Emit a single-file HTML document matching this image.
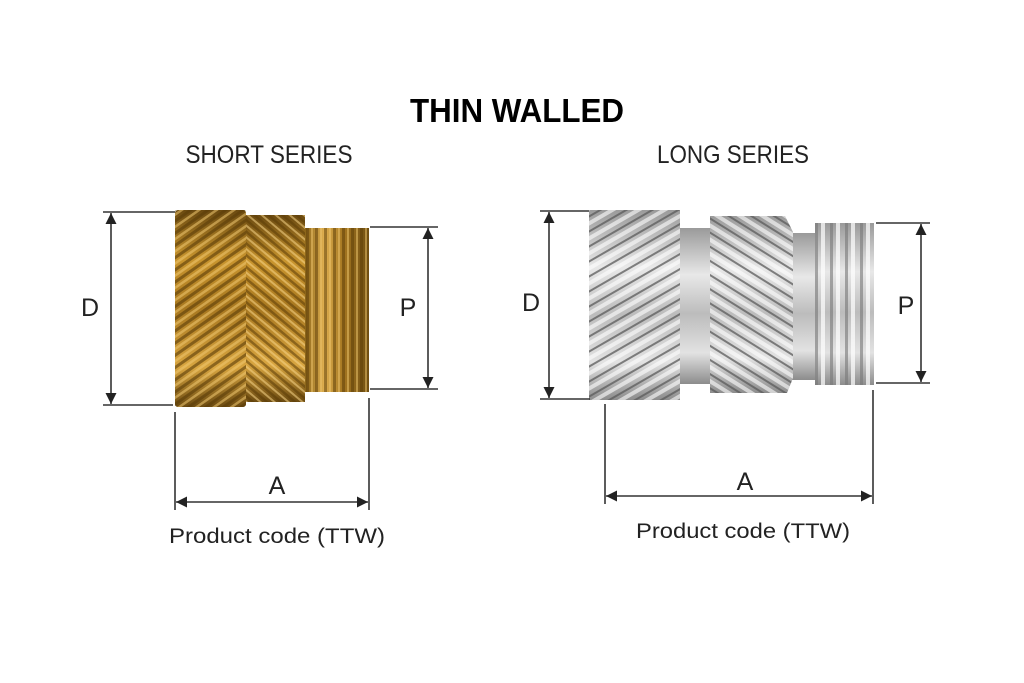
<!DOCTYPE html>
<html><head><meta charset="utf-8"><style>html,body{margin:0;padding:0;background:#fff}svg{display:block}</style></head>
<body>
<svg width="1024" height="683" viewBox="0 0 1024 683" xmlns="http://www.w3.org/2000/svg">
<defs>
<linearGradient id="bv" x1="0" y1="0" x2="0" y2="1">
<stop offset="0" stop-color="#6b4a10"/><stop offset="0.25" stop-color="#c9952e"/><stop offset="0.5" stop-color="#a87820"/><stop offset="0.8" stop-color="#d8a540"/><stop offset="1" stop-color="#6b4a10"/></linearGradient>
<linearGradient id="bt" x1="0" y1="0" x2="1" y2="0">
<stop offset="0" stop-color="#8a6418"/><stop offset="0.3" stop-color="#e0b050"/><stop offset="0.6" stop-color="#a47620"/><stop offset="1" stop-color="#6f4e12"/></linearGradient>
<pattern id="bk" width="10" height="10" patternUnits="userSpaceOnUse" patternTransform="rotate(-35)">
<rect width="10" height="3" fill="#5a3c08" opacity="0.6"/><rect y="5" width="10" height="2.5" fill="#f0c870" opacity="0.55"/></pattern>
<pattern id="bk2" width="9" height="9" patternUnits="userSpaceOnUse" patternTransform="rotate(40)">
<rect width="9" height="2.5" fill="#5a3c08" opacity="0.55"/><rect y="4.5" width="9" height="2" fill="#f8d488" opacity="0.55"/></pattern>
<pattern id="bth" width="9" height="10" patternUnits="userSpaceOnUse">
<rect width="3" height="10" fill="#5a3c08" opacity="0.5"/><rect x="5" width="2" height="10" fill="#f0c870" opacity="0.5"/></pattern>
<linearGradient id="sv" x1="0" y1="0" x2="0" y2="1">
<stop offset="0" stop-color="#9a9a9a"/><stop offset="0.3" stop-color="#e8e8e8"/><stop offset="0.55" stop-color="#bcbcbc"/><stop offset="0.8" stop-color="#e2e2e2"/><stop offset="1" stop-color="#8c8c8c"/></linearGradient>
<pattern id="sk" width="13" height="13" patternUnits="userSpaceOnUse" patternTransform="rotate(-30)">
<rect width="13" height="2" fill="#5a5a5a" opacity="0.75"/><rect y="5" width="13" height="4" fill="#ffffff" opacity="0.6"/></pattern>
<pattern id="sk2" width="12" height="12" patternUnits="userSpaceOnUse" patternTransform="rotate(32)">
<rect width="12" height="2" fill="#5a5a5a" opacity="0.75"/><rect y="5" width="12" height="4" fill="#ffffff" opacity="0.6"/></pattern>
<pattern id="sth" width="15" height="10" patternUnits="userSpaceOnUse" x="815">
<rect width="3" height="10" fill="#777" opacity="0.6"/><rect x="6" width="4" height="10" fill="#fff" opacity="0.7"/></pattern>
<marker id="ar" viewBox="0 0 10 10" refX="10" refY="5" markerWidth="11" markerHeight="11" markerUnits="userSpaceOnUse" orient="auto-start-reverse"><path d="M0,0 L10,5 L0,10 z" fill="#222"/></marker>
</defs>

<text x="517" y="122" text-anchor="middle" font-family="Liberation Sans Narrow, Liberation Sans, sans-serif" font-weight="bold" font-size="33" textLength="214" lengthAdjust="spacingAndGlyphs">THIN WALLED</text>
<text x="269" y="163" text-anchor="middle" font-family="Liberation Sans Narrow, Liberation Sans, sans-serif" font-size="25" textLength="167" lengthAdjust="spacingAndGlyphs" fill="#222">SHORT SERIES</text>
<text x="733" y="163" text-anchor="middle" font-family="Liberation Sans Narrow, Liberation Sans, sans-serif" font-size="25" textLength="152" lengthAdjust="spacingAndGlyphs" fill="#222">LONG SERIES</text>

<!-- Brass -->
<g>
<rect x="305" y="228" width="64" height="164" fill="url(#bt)"/>
<rect x="305" y="228" width="64" height="164" fill="url(#bth)"/>
<rect x="175" y="210" width="71" height="197" rx="3" fill="url(#bv)"/>
<rect x="175" y="210" width="71" height="197" fill="url(#bk)"/>
<rect x="246" y="215" width="59" height="187" fill="url(#bv)"/>
<rect x="246" y="215" width="59" height="187" fill="url(#bk2)"/>
</g>
<g stroke="#333" stroke-width="1.6" fill="none">
<line x1="103" y1="212" x2="175" y2="212"/><line x1="103" y1="405" x2="173" y2="405"/>
<line x1="111" y1="213" x2="111" y2="404" marker-start="url(#ar)" marker-end="url(#ar)"/>
<line x1="370" y1="227" x2="438" y2="227"/><line x1="370" y1="389" x2="438" y2="389"/>
<line x1="428" y1="228" x2="428" y2="388" marker-start="url(#ar)" marker-end="url(#ar)"/>
<line x1="175" y1="412" x2="175" y2="510"/><line x1="369" y1="398" x2="369" y2="510"/>
<line x1="176" y1="502" x2="368" y2="502" marker-start="url(#ar)" marker-end="url(#ar)"/>
</g>
<g font-family="Liberation Sans, sans-serif" fill="#222">
<text x="90" y="316" text-anchor="middle" font-size="25">D</text>
<text x="408" y="316" text-anchor="middle" font-size="25">P</text>
<text x="277" y="494" text-anchor="middle" font-size="25">A</text>
<text x="277" y="543" text-anchor="middle" font-size="21" textLength="216" lengthAdjust="spacingAndGlyphs">Product code (TTW)</text>
</g>

<!-- Silver -->
<g>
<rect x="680" y="228" width="32" height="156" fill="url(#sv)"/>
<rect x="788" y="233" width="30" height="147" fill="url(#sv)"/>
<rect x="815" y="223" width="59" height="162" fill="url(#sv)"/>
<rect x="815" y="223" width="59" height="162" fill="url(#sth)"/>
<rect x="589" y="210" width="91" height="190" fill="url(#sv)"/>
<rect x="589" y="210" width="91" height="190" fill="url(#sk)"/>
<path d="M710,216 L785,216 L793,232 L793,378 L787,393 L710,393 z" fill="url(#sv)"/>
<path d="M710,216 L785,216 L793,232 L793,378 L787,393 L710,393 z" fill="url(#sk2)"/>
</g>
<g stroke="#333" stroke-width="1.6" fill="none">
<line x1="540" y1="211" x2="589" y2="211"/><line x1="540" y1="399" x2="590" y2="399"/>
<line x1="549" y1="212" x2="549" y2="398" marker-start="url(#ar)" marker-end="url(#ar)"/>
<line x1="876" y1="223" x2="930" y2="223"/><line x1="876" y1="383" x2="930" y2="383"/>
<line x1="921" y1="224" x2="921" y2="382" marker-start="url(#ar)" marker-end="url(#ar)"/>
<line x1="605" y1="404" x2="605" y2="504"/><line x1="873" y1="390" x2="873" y2="504"/>
<line x1="606" y1="496" x2="872" y2="496" marker-start="url(#ar)" marker-end="url(#ar)"/>
</g>
<g font-family="Liberation Sans, sans-serif" fill="#222">
<text x="531" y="311" text-anchor="middle" font-size="25">D</text>
<text x="906" y="314" text-anchor="middle" font-size="25">P</text>
<text x="745" y="490" text-anchor="middle" font-size="25">A</text>
<text x="743" y="538" text-anchor="middle" font-size="21" textLength="214" lengthAdjust="spacingAndGlyphs">Product code (TTW)</text>
</g>
</svg>
</body></html>
